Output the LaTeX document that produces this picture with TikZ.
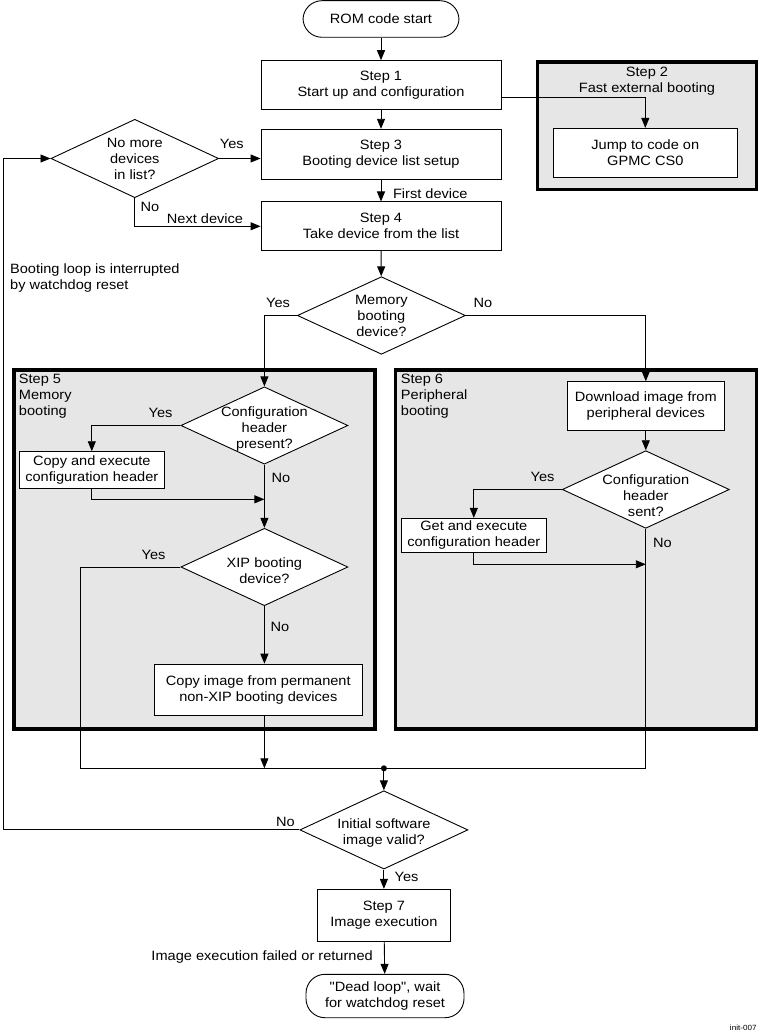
\documentclass[tikz,border=0pt]{standalone}
\usepackage{fontspec}
\setmainfont{Liberation Sans}[FakeStretch=1.08,Ligatures=TeXOff]
\usetikzlibrary{arrows.meta,calc,shapes.geometric}
\definecolor{panelgray}{RGB}{230,230,230}

\begin{document}
\begin{tikzpicture}[x=1pt,y=-1pt,>={Triangle[length=10pt,width=8pt]},line width=.9pt,
    font=\fontsize{13.5}{16}\selectfont,
    stepbox/.style={draw,fill=white,align=center,inner sep=0pt},
    termbox/.style={draw,fill=white,align=center,rounded corners=19pt,inner sep=0pt},
    decision/.style={draw,fill=white,diamond,inner sep=0pt},
    dtext/.style={inner sep=0pt,align=center},
    panel/.style={draw,fill=panelgray,line width=3.5pt},
    lbl/.style={inner sep=0pt}]
        \useasboundingbox (0,0) rectangle (759,1032);
        % grey step panels
        \draw[panel] (537.5,62) rectangle (756.5,189.5);
        \draw[panel] (13.8,370) rectangle (374.9,729);
        \draw[panel] (395.3,370) rectangle (756.5,729);
        \node[lbl,align=center] (p2) at (647,81) {Step 2\\Fast external booting};
        \node[lbl,align=left,anchor=west] (p5) at (18.5,396) {Step 5\\Memory\\booting};
        \node[lbl,align=left,anchor=west] (p6) at (400.5,396) {Step 6\\Peripheral\\booting};
        % boxes and decisions
        \node[termbox,minimum width=156pt,minimum height=36.6pt] (rom) at (381,19) {ROM code start};
        \node[stepbox,minimum width=240pt,minimum height=48.6pt] (step1) at (381,85) {Step 1\\Start up and configuration};
        \node[stepbox,minimum width=184.6pt,minimum height=48.7pt] (jump) at (645.3,152.7) {Jump to code on\\GPMC CS0};
        \node[stepbox,minimum width=240pt,minimum height=50pt] (step3) at (381,154.3) {Step 3\\Booting device list setup};
        \node[decision,minimum width=167.7pt,minimum height=78.4pt,
          label={[dtext]center:No more\\devices\\in list?}] (nomore) at (134.8,158.5) {};
        \node[stepbox,minimum width=240pt,minimum height=48.7pt] (step4) at (381,226.3) {Step 4\\Take device from the list};
        \node[decision,minimum width=168pt,minimum height=77.6pt,
          label={[dtext]center:Memory\\booting\\device?}] (memq) at (381.4,315.5) {};
        \node[decision,minimum width=167pt,minimum height=77.3pt,
          label={[dtext,yshift=-4pt]center:Configuration\\header\\present?}] (cfg5) at (264.4,425.5) {};
        \node[stepbox,minimum width=144.8pt,minimum height=36.6pt] (copyhdr) at (91.8,470) {Copy and execute\\configuration header};
        \node[decision,minimum width=167pt,minimum height=77.4pt,
          label={[dtext,yshift=-3.5pt]center:XIP booting\\device?}] (xip) at (264.4,567) {};
        \node[stepbox,minimum width=208.5pt,minimum height=51.7pt] (copyimg) at (258.3,690) {Copy image from permanent\\non-XIP booting devices};
        \node[stepbox,minimum width=157.5pt,minimum height=49pt] (download) at (645.8,406.2) {Download image from\\peripheral devices};
        \node[decision,minimum width=167pt,minimum height=77.6pt,
          label={[dtext,yshift=-6pt]center:Configuration\\header\\sent?}] (cfg6) at (645.8,489.5) {};
        \node[stepbox,minimum width=145.7pt,minimum height=34pt] (gethdr) at (473.8,535.3) {Get and execute\\configuration header};
        \node[decision,minimum width=168pt,minimum height=78.3pt,
          label={[dtext,yshift=-3.5pt]center:Initial software\\image valid?}] (valid) at (383.9,829.9) {};
        \node[stepbox,minimum width=133pt,minimum height=52.4pt] (step7) at (383.9,915.5) {Step 7\\Image execution};
        \node[termbox,minimum width=158pt,minimum height=43.4pt] (dead) at (385,996) {"Dead loop", wait\\for watchdog reset};
        % connectors
        \draw[->] (rom) -- (step1);
        \draw[->] ([yshift=-12.7pt]step1.east) -| (jump.north);
        \draw[->] (step1) -- (step3);
        \draw[->] (nomore.east) -- (nomore.east -| step3.west);
        \draw[->] (step3) -- (step4);
        \draw[->] (nomore.south) |- (step4.west);
        \draw[->] (step4) -- (memq);
        \draw[->] (memq.west) -| (cfg5.north);
        \draw[->] (memq.east) -| (download.north);
        \draw[->] (cfg5.west) -| (copyhdr.north);
        \coordinate (j5) at (0,499.3);
        \draw[->] (copyhdr.south) |- (cfg5.south |- j5);
        \draw[->] (cfg5) -- (xip);
        \draw[->] (xip.south) -- (xip.south |- copyimg.north);
        \draw[->] (download) -- (cfg6);
        \draw[->] (cfg6.west) -| (gethdr.north);
        \coordinate (j6) at (0,564.3);
        \draw[->] (gethdr.south) |- (cfg6.south |- j6);
        \coordinate (mL) at (80.2,768.3);
        \coordinate (mdot) at (383.9,768.3);
        \draw (xip.west) -| (mL) -- (mdot);
        \draw (cfg6.south) |- (mdot);
        \draw[->] (xip.south |- copyimg.south) -- (xip.south |- mL);
        \fill (mdot) circle (3pt);
        \draw[->] (mdot) -- (valid);
        \coordinate (lp) at (3.4,0);
        \draw[->] (valid.west) -| (lp |- nomore.west) -- (nomore.west);
        \draw[->] (valid) -- (step7);
        \draw[->] (step7) -- (dead);
        % labels
        \node[lbl] (yes1) at (231.8,144) {Yes};
        \node[lbl,anchor=west] (first) at (392.6,193.3) {First device};
        \node[lbl] (no1) at (150,207) {No};
        \node[lbl] (next) at (205,218.3) {Next device};
        \node[lbl,align=left,anchor=west] (loopnote) at (9.7,278) {Booting loop is interrupted\\by watchdog reset};
        \node[lbl] (yes2) at (278,302.7) {Yes};
        \node[lbl] (no2) at (483,302.7) {No};
        \node[lbl] (yes3) at (160.5,413.3) {Yes};
        \node[lbl] (no3) at (281,478.3) {No};
        \node[lbl] (yes4) at (153.5,555) {Yes};
        \node[lbl] (no4) at (280,627.3) {No};
        \node[lbl] (yes5) at (542.5,477.3) {Yes};
        \node[lbl] (no5) at (662.5,543.3) {No};
        \node[lbl] (no6) at (285.5,821.7) {No};
        \node[lbl] (yes6) at (406.5,876.7) {Yes};
        \node[lbl,anchor=east] (failed) at (373.2,956.7) {Image execution failed or returned};
        \node[lbl,font=\fontsize{7.5}{9}\selectfont,anchor=east] (figid) at (757,1027.7) {init-007};
      \end{tikzpicture}
\end{document}
